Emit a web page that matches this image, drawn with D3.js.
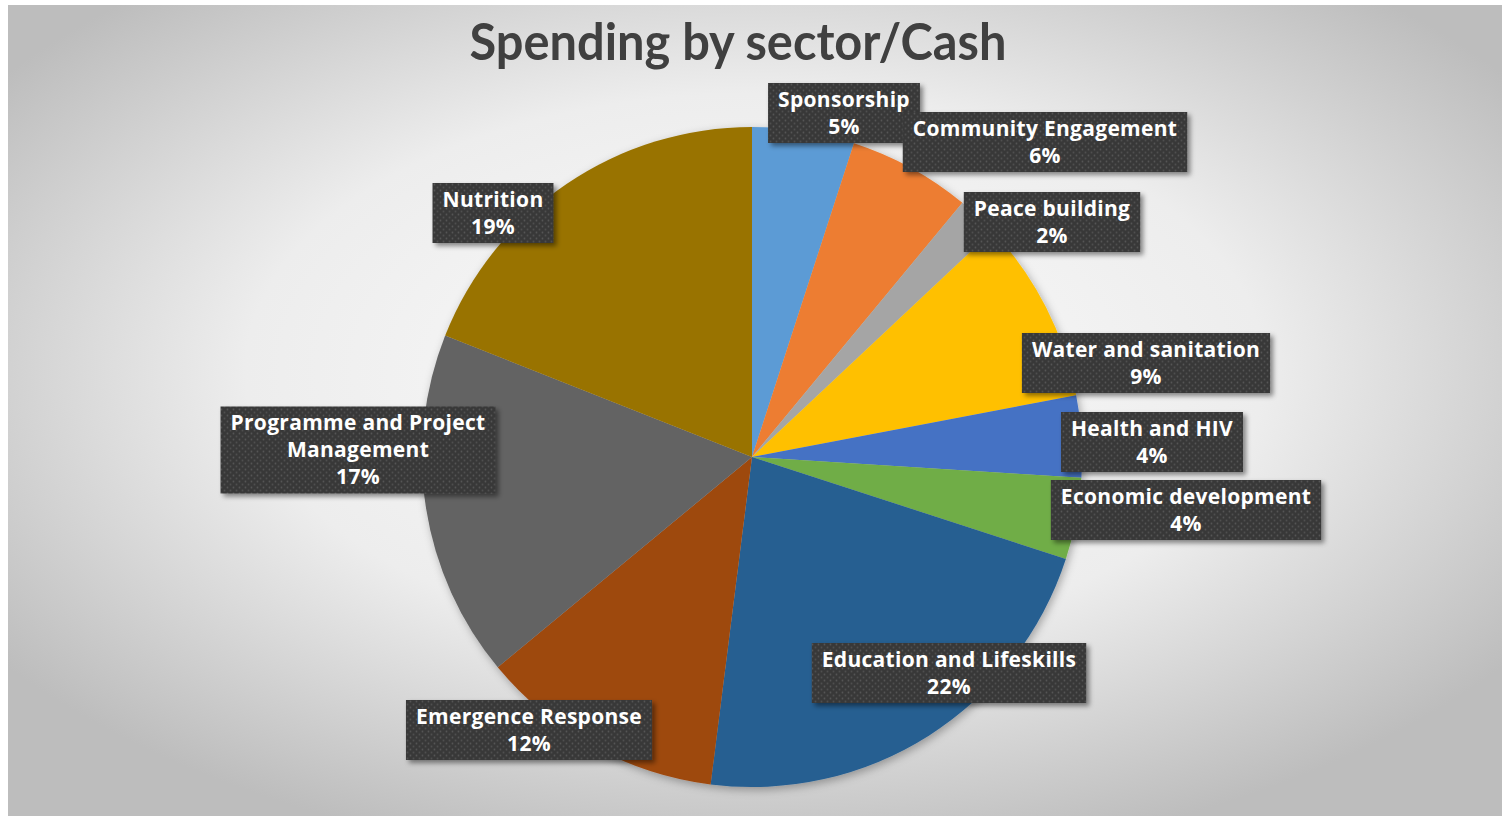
<!DOCTYPE html>
<html>
<head>
<meta charset="utf-8">
<script src="https://cdn.jsdelivr.net/npm/d3@7"></script>
<style>
  body { margin: 0; background: #fff; }
  svg { display: block; }
</style>
</head>
<body>
<svg id="chart" width="1502" height="816"></svg>
<script>
// data
const sectors = ["Sponsorship", "Community Engagement", "Peace building", "Water and sanitation",
    "Health and HIV", "Economic development", "Education and Lifeskills", "Emergence Response",
    "Programme and Project Management", "Nutrition"];
const shares = [5, 6, 2, 9, 4, 4, 22, 12, 17, 19];
const sectorColors = ["#5B9BD5", "#ED7D31", "#A5A5A5", "#FFC000", "#4472C4", "#70AD47",
    "#255E91", "#9E480E", "#636363", "#997300"];

// label box centres, relative to pie centre (layout only)
const labelOffsets = [[92, -344], [293, -315], [300, -235], [394, -94], [400, -15],
    [434, 53], [197, 216], [-223, 273], [-394, -7], [-259, -244]];
const labelWraps = {"Programme and Project Management": ["Programme and Project", "Management"]};

const width = 1502, height = 816;
const cx = 752, cy = 457, radius = 330;

let svg = d3.select("#chart");
let defs = svg.append("defs");

// background gradient
let bg = defs.append("radialGradient").attr("id", "bg")
    .attr("cx", "50%").attr("cy", "45%").attr("r", "62%");
bg.append("stop").attr("offset", "0%").attr("stop-color", "#fbfbfb");
bg.append("stop").attr("offset", "55%").attr("stop-color", "#ededed");
bg.append("stop").attr("offset", "100%").attr("stop-color", "#bdbdbd");

svg.append("rect")
    .attr("x", 8).attr("y", 5)
    .attr("width", width - 8).attr("height", height - 5)
    .style("fill", "url(#bg)");

// dotted texture for label boxes
let pat = defs.append("pattern").attr("id", "dots")
    .attr("width", 6).attr("height", 6).attr("patternUnits", "userSpaceOnUse");
pat.append("rect").attr("width", 6).attr("height", 6).style("fill", "#383838");
pat.append("circle").attr("cx", 1.5).attr("cy", 1.5).attr("r", 0.9).style("fill", "#555");
pat.append("circle").attr("cx", 4.5).attr("cy", 4.5).attr("r", 0.9).style("fill", "#505050");

let shadow = defs.append("filter").attr("id", "shadow")
    .attr("x", "-10%").attr("y", "-10%").attr("width", "130%").attr("height", "130%");
shadow.append("feDropShadow").attr("dx", 3).attr("dy", 3).attr("stdDeviation", 2.5)
    .attr("flood-color", "#000").attr("flood-opacity", 0.45);

let pieShadow = defs.append("filter").attr("id", "pieShadow")
    .attr("x", "-10%").attr("y", "-10%").attr("width", "120%").attr("height", "120%");
pieShadow.append("feDropShadow").attr("dx", 2).attr("dy", 3).attr("stdDeviation", 4)
    .attr("flood-color", "#000").attr("flood-opacity", 0.3);

// title
svg.append("text")
    .attr("x", 738).attr("y", 60)
    .attr("text-anchor", "middle")
    .attr("textLength", 537)
    .attr("lengthAdjust", "spacingAndGlyphs")
    .style("font-family", "Lato, 'Open Sans', sans-serif")
    .style("font-weight", "bold")
    .style("font-size", "52px")
    .style("fill", "#404040")
    .text("Spending by sector/Cash");

// pie
let pie = d3.pie().sort(null).value(function(d) { return d; });
let arc = d3.arc().innerRadius(0).outerRadius(radius);
let arcs = pie(shares);

let g = svg.append("g").attr("transform", "translate(" + cx + "," + cy + ")");

g.append("g").attr("filter", "url(#pieShadow)")
    .selectAll("path")
    .data(arcs)
    .enter().append("path")
    .attr("d", arc)
    .style("fill", function(d, i) { return sectorColors[i]; });

// labels
let labels = g.selectAll(".label_g")
    .data(arcs)
    .enter().append("g")
    .attr("class", "label_g")
    .attr("transform", function(d, i) {
        return "translate(" + labelOffsets[i][0] + "," + labelOffsets[i][1] + ")";
    });

let lineH = 27;
labels.each(function(d, i) {
    let lg = d3.select(this);
    let name = sectors[i];
    let lines = (labelWraps[name] || [name]).concat([shares[i] + "%"]);
    let box = lg.append("rect").attr("filter", "url(#shadow)").style("fill", "url(#dots)");
    let txt = lg.append("text")
        .attr("text-anchor", "middle")
        .style("font-family", "'Open Sans', Lato, sans-serif")
        .style("font-weight", "bold")
        .style("font-size", "21px")
        .style("letter-spacing", "0.3px")
        .style("fill", "#fff");
    let top = -(lines.length - 1) * lineH / 2;
    lines.forEach(function(l, k) {
        txt.append("tspan")
            .attr("x", 0)
            .attr("y", top + k * lineH)
            .attr("dy", "0.35em")
            .text(l);
    });
    let w = txt.node().getBBox().width + 20;
    let h = lines.length * lineH + 6;
    box.attr("x", -w / 2).attr("y", -h / 2).attr("width", w).attr("height", h);
});

console.log("draw vis");
</script>
</body>
</html>
